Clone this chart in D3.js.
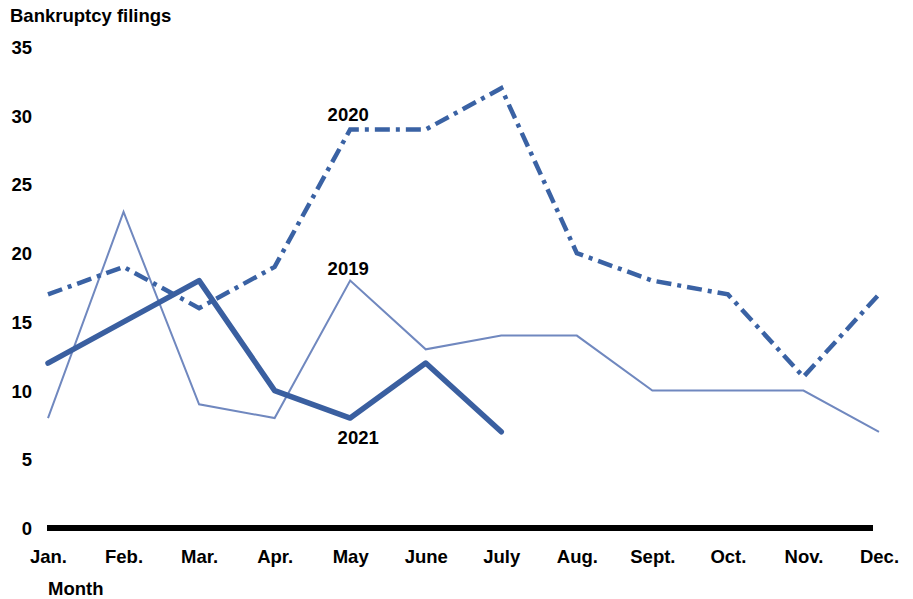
<!DOCTYPE html>
<html><head><meta charset="utf-8">
<script src="https://cdn.jsdelivr.net/npm/d3@7"></script>
<style>body{margin:0;background:#fff}svg text{font-family:"Liberation Sans",Arial,sans-serif;font-weight:bold;fill:#000}</style>
</head><body>
<svg id="c" width="913" height="599"></svg>
<script>
const months = ["Jan.","Feb.","Mar.","Apr.","May","June","July","Aug.","Sept.","Oct.","Nov.","Dec."];
const yTicks = [0,5,10,15,20,25,30,35];
const s2019 = [8,23,9,8,18,13,14,14,10,10,10,7];
const s2020 = [17,19,16,19,29,29,32,20,18,17,11,17];
const s2021 = [12,15,18,10,8,12,7];
const seriesLabels = [
  {text:"2020", month:"May", value:29, dx:-2, dy:-8},
  {text:"2019", month:"May", value:18, dx:-2, dy:-6},
  {text:"2021", month:"May", value:8, dx:8, dy:26}
];

const FS = "18.5px";
const svg = d3.select("#c");
const x = d3.scalePoint().domain(months).range([48, 879]);
const y = d3.scaleLinear().domain([0,35]).range([528, 47]);

// y tick labels
const yAxis = d3.axisLeft(y).tickValues(yTicks).tickSize(0).tickPadding(0);
const gy = svg.append("g").attr("transform","translate(32,0)").call(yAxis);
gy.select(".domain").remove();
gy.selectAll("text").style("font-size",FS).attr("dy","0.35em").attr("x",0);

// x axis
const xAxis = d3.axisBottom(x).tickSize(0).tickPadding(0);
const gx = svg.append("g").attr("transform","translate(0,528)").call(xAxis);
gx.select(".domain").remove();
gx.selectAll("text").style("font-size",FS).attr("y",29).attr("dy","0.35em");
svg.append("line").attr("x1",x("Jan.")-1).attr("x2",873).attr("y1",y(0)).attr("y2",y(0))
  .attr("stroke","#000").attr("stroke-width",6);

const line = d3.line().x((d,i)=>x(months[i])).y(d=>y(d));

svg.append("path").datum(s2019).attr("d",line).attr("fill","none")
  .attr("stroke","#7088BF").attr("stroke-width",2).attr("stroke-linejoin","miter");
svg.append("path").datum(s2020).attr("d",line).attr("fill","none")
  .attr("stroke","#3A62A4").attr("stroke-width",4.5).attr("stroke-dasharray","15,6,4,6");
svg.append("path").datum(s2021).attr("d",line).attr("fill","none")
  .attr("stroke","#3A5FA0").attr("stroke-width",5.5).attr("stroke-linecap","round").attr("stroke-linejoin","round");

svg.selectAll(".sl").data(seriesLabels).enter().append("text")
  .attr("x",d=>x(d.month)+d.dx).attr("y",d=>y(d.value)+d.dy)
  .attr("text-anchor","middle").style("font-size",FS).text(d=>d.text);

svg.append("text").attr("x",10).attr("y",22).style("font-size",FS).text("Bankruptcy filings");
svg.append("text").attr("x",48).attr("y",595).style("font-size",FS).text("Month");
</script>
</body></html>
